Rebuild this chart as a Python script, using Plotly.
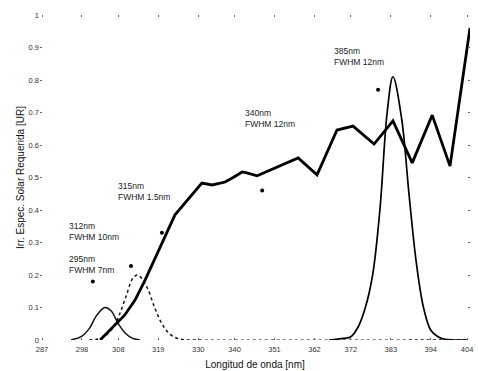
import plotly.graph_objects as go

# Solar spectral irradiance required (thick line)
solar_x = [303.0, 306.5, 309.8, 312.6, 315.4, 323.6, 331.0, 333.8, 337.4, 339.6, 342.1,
           343.4, 346.2, 357.5, 362.7, 368.2, 372.6, 378.4, 383.6, 388.9, 394.4, 399.3, 404.8]
solar_y = [0.0, 0.04, 0.077, 0.123, 0.185, 0.385, 0.483, 0.477, 0.486, 0.50, 0.517,
           0.514, 0.505, 0.56, 0.508, 0.646, 0.658, 0.603, 0.674, 0.545, 0.692, 0.535, 0.96]

# Emission peaks
peak1_x = [295, 298, 300, 302, 304.3, 306, 308, 310, 312, 314]
peak1_y = [0.0, 0.012, 0.035, 0.075, 0.10, 0.09, 0.05, 0.02, 0.005, 0.0]

peak2_x = [300, 302, 304, 306, 308, 310, 312, 313.2, 314, 316, 318, 320, 322, 324, 326, 328, 404]
peak2_y = [0.0, 0.002, 0.01, 0.03, 0.07, 0.13, 0.19, 0.20, 0.195, 0.16, 0.10, 0.05, 0.02, 0.006, 0.001, 0.0, 0.0]

peak3_x = [366, 370, 372, 374, 376, 378, 380, 382, 383.6, 386, 388, 390, 392, 394, 396, 398, 400, 404]
peak3_y = [0.0, 0.005, 0.01, 0.04, 0.10, 0.20, 0.40, 0.70, 0.81, 0.68, 0.45, 0.24, 0.10, 0.03, 0.01, 0.002, 0.0, 0.0]

# Label markers and texts
dot_x = [301.0, 311.5, 320.0, 347.6, 379.5]
dot_y = [0.18, 0.228, 0.33, 0.46, 0.77]
label_x = [294.0, 294.0, 307.5, 342.2, 366.7]
label_y = [0.27, 0.372, 0.495, 0.72, 0.91]
label_text = ["295nm<br>FWHM 7nm", "312nm<br>FWHM 10nm", "315nm<br>FWHM 1.5nm",
              "340nm<br>FWHM 12nm", "385nm<br>FWHM 12nm"]

x_ticks = [287, 298, 308, 319, 330, 340, 351, 362, 372, 383, 394, 404]
x_ticktext = ["287", "298", "308", "319", "330", "340", "351", "362", "372", "383", "394", "404"]
y_ticks = [0, 0.1, 0.2, 0.3, 0.4, 0.5, 0.6, 0.7, 0.8, 0.9, 1]
y_ticktext = ["0", "0.1", "0.2", "0.3", "0.4", "0.5", "0.6", "0.7", "0.8", "0.9", "1"]

fig = go.Figure()
fig.add_trace(go.Scatter(x=peak1_x, y=peak1_y, mode="lines",
                         line=dict(color="#111", width=1.5), line_shape="spline"))
fig.add_trace(go.Scatter(x=peak2_x, y=peak2_y, mode="lines",
                         line=dict(color="#111", width=1.5, dash="dot"), line_shape="spline"))
fig.add_trace(go.Scatter(x=peak3_x, y=peak3_y, mode="lines",
                         line=dict(color="#000", width=1.7), line_shape="spline"))
fig.add_trace(go.Scatter(x=solar_x, y=solar_y, mode="lines",
                         line=dict(color="#000", width=2.8)))
fig.add_trace(go.Scatter(x=dot_x, y=dot_y, mode="markers",
                         marker=dict(color="#000", size=4)))

for lx, ly, lt in zip(label_x, label_y, label_text):
    fig.add_annotation(x=lx, y=ly, text=lt, showarrow=False, xanchor="left", yanchor="top",
                       align="left", font=dict(size=8.5, color="#222", family="Arial"))

fig.update_layout(
    width=478, height=371,
    margin=dict(l=40, r=8, t=15, b=31),
    paper_bgcolor="white", plot_bgcolor="white",
    showlegend=False,
    font=dict(family="Arial", color="#333", size=7),
)
fig.update_xaxes(range=[286.45, 404.8], tickvals=x_ticks, ticktext=x_ticktext,
                 showgrid=False, zeroline=False, showline=False, automargin=False,
                 ticks="inside", ticklen=2, tickcolor="#666", mirror="ticks",
                 tickfont=dict(size=7.5, color="#333"), ticklabelstandoff=3,
                 title=dict(text="Longitud de onda [nm]", font=dict(size=10, color="#111"), standoff=8))
fig.update_yaxes(range=[0, 1], tickvals=y_ticks, ticktext=y_ticktext,
                 showgrid=False, zeroline=False, showline=False,
                 ticks="inside", ticklen=2, tickcolor="#666", mirror="ticks",
                 tickfont=dict(size=7.5, color="#333"),
                 title=dict(text="Irr. Espec. Solar Requerida [UR]", font=dict(size=10, color="#111"), standoff=2))

fig.write_html("out.html")
